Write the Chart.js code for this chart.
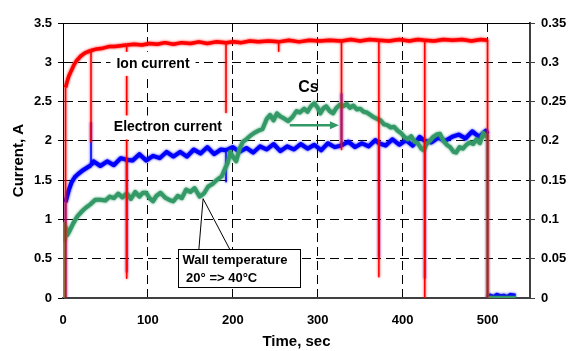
<!DOCTYPE html>
<html>
<head>
<meta charset="utf-8">
<script src="https://cdn.jsdelivr.net/npm/chart.js@4.4.1/dist/chart.umd.min.js"></script>
<style>
  html, body { margin: 0; padding: 0; background: #fff; }
  #wrap { width: 572px; height: 351px; }
</style>
</head>
<body>
<div id="wrap"><canvas id="chart" width="572" height="351"></canvas></div>
<script>
// Axis ticks
const timeTicks = [0, 100, 200, 300, 400, 500];
const currentTicks = [0, 0.5, 1, 1.5, 2, 2.5, 3, 3.5];
const rightTicks = [0, 0.05, 0.1, 0.15, 0.2, 0.25, 0.3, 0.35];
const rightTickLabels = ['0', '0.05', '0.1', '0.15', '0.2', '0.25', '0.3', '0.35'];

// Ion current (A) - spikes are repeated times
const ionTime = [
  3, 3, 5, 7, 10, 13, 16, 21, 26,
  33, 33, 33,
  40, 47, 54, 61, 68,
  75, 75, 75,
  84, 93, 102, 111, 120, 130, 140, 150, 160, 170, 180,
  192, 192, 192,
  201, 210, 220, 230, 242,
  254, 254, 254,
  266, 278, 290, 302, 314,
  328, 328, 328,
  339, 350, 361,
  372, 372, 372,
  384, 396, 408, 418,
  426, 426, 426,
  437, 448, 459, 470, 481, 492,
  500, 500
];
const ionCurrent = [
  0, 2.68, 2.76, 2.83, 2.90, 2.97, 3.02, 3.08, 3.12,
  3.15, 1.99, 3.15,
  3.17, 3.18, 3.20, 3.20, 3.21,
  3.22, 0.25, 3.22,
  3.23, 3.22, 3.24, 3.23, 3.25, 3.23, 3.25, 3.24, 3.26, 3.24, 3.26,
  3.25, 2.36, 3.25,
  3.26, 3.25, 3.27, 3.26, 3.27,
  3.26, 3.14, 3.26,
  3.28, 3.26, 3.28, 3.27, 3.28,
  3.27, 1.89, 3.27,
  3.29, 3.27, 3.29,
  3.28, 0.27, 3.28,
  3.27, 3.29, 3.27, 3.29,
  3.28, 0, 3.28,
  3.27, 3.29, 3.28, 3.29, 3.27, 3.29,
  3.28, 0
];

// Electron current (A)
const electronTime = [
  3, 3, 5, 7, 10, 14, 18, 24, 30,
  33, 33, 33,
  36, 44, 52, 60, 68,
  75, 75, 75,
  82, 90, 98, 106, 114, 122, 130, 138, 146, 154, 162, 170, 178, 186,
  192, 192, 192,
  200, 208, 216, 224, 232, 240, 248, 256, 264, 272, 280, 288, 296, 304, 312, 320,
  328, 328, 328,
  336, 344, 352, 360, 368,
  372, 372, 372,
  380, 388, 396, 404, 412, 420,
  426, 426, 426,
  434, 442, 450, 458, 466, 474, 482, 490, 498,
  500, 500, 500,
  503, 507, 511, 515, 519, 523, 527, 533
];
const electronCurrent = [
  0, 1.22, 1.30, 1.38, 1.47, 1.54, 1.58, 1.63, 1.67,
  1.69, 2.23, 1.69,
  1.74, 1.68, 1.74, 1.69, 1.78,
  1.76, 0.33, 1.76,
  1.75, 1.83, 1.75, 1.81, 1.78, 1.86, 1.80, 1.86, 1.80, 1.89, 1.84, 1.92, 1.83, 1.89,
  1.88, 1.48, 1.88,
  1.92, 1.86, 1.91, 1.85, 1.93, 1.89, 1.96, 1.87, 1.93, 1.89, 1.96, 1.90, 1.95, 1.88, 1.97, 1.92,
  1.94, 2.60, 1.94,
  1.99, 1.92, 1.97, 1.93, 2.01,
  1.97, 0.52, 1.97,
  1.94, 2.02, 1.95, 2.01, 1.94, 2.05,
  2.00, 0.25, 2.00,
  1.98, 2.04, 2.00, 2.05, 2.08, 2.03, 2.12, 2.05, 2.13,
  2.09, 0.28, 0,
  0.03, 0.01, 0.04, 0.02, 0.03, 0.01, 0.04, 0.03
];

// Cs signal / wall temperature trace (green)
const cesiumTime = [
  1, 1, 2, 3, 5, 8, 12, 17, 22, 27,
  32, 38, 44, 50, 55, 60, 65, 70, 75, 80,
  85, 90, 94, 98, 102, 106, 110, 115, 120, 125,
  130, 135, 140, 145, 150, 155, 161, 166, 171, 176,
  181, 187, 191, 194, 197, 200, 204, 208, 212, 216,
  220, 225, 230, 235, 240, 244, 248, 252, 256, 261,
  265, 270, 275, 279, 284, 288, 292, 296, 300, 303,
  307, 310, 314, 318, 322, 326, 330, 334, 338, 342,
  346, 350, 354, 358, 362, 366, 370, 374, 378, 382,
  386, 390, 394, 398, 402, 406, 410, 414, 418, 422,
  425, 428, 432, 436, 440, 444, 448, 452, 456, 460,
  463, 467, 471, 475, 479, 483, 487, 491, 495, 498,
  500, 500, 533
];
const cesiumSignal = [
  0, 0.96, 0.74, 0.90, 0.80, 0.86, 0.95, 1.04, 1.10, 1.15,
  1.19, 1.25, 1.25, 1.24, 1.29, 1.27, 1.33, 1.28, 1.33, 1.26,
  1.35, 1.29, 1.34, 1.34, 1.27, 1.23, 1.30, 1.34, 1.28, 1.25,
  1.23, 1.30, 1.27, 1.38, 1.35, 1.40, 1.29, 1.33, 1.42, 1.45,
  1.50, 1.55, 1.65, 1.72, 1.86, 1.80, 1.74, 1.90, 1.99, 2.02,
  2.06, 2.10, 2.13, 2.15, 2.28, 2.33, 2.26, 2.35, 2.31, 2.28,
  2.25, 2.30, 2.38, 2.36, 2.41, 2.37, 2.44, 2.48, 2.42, 2.35,
  2.42, 2.44, 2.38, 2.35, 2.42, 2.46, 2.44, 2.47, 2.42, 2.45,
  2.40, 2.41, 2.37, 2.36, 2.33, 2.30, 2.28, 2.26, 2.21, 2.20,
  2.17, 2.18, 2.13, 2.10, 2.05, 2.02, 2.06, 1.99, 1.97, 1.90,
  1.88, 1.96, 2.00, 2.05, 2.08, 2.09, 2.00, 1.95, 1.92, 1.86,
  1.85, 1.92, 1.90, 1.95, 1.98, 1.96, 2.02, 1.97, 2.10, 2.06,
  2.05, 0, 0
];

const FONT = "'Liberation Sans', Arial, Helvetica, sans-serif";
Chart.defaults.font.family = FONT;
Chart.defaults.color = '#000';

const pairs = (t, v) => t.map((x, i) => ({ x: x, y: v[i] }));
const isVertical = ctx => ctx.p0.parsed.x === ctx.p1.parsed.x;
const useTicks = list => scale => { scale.ticks = list.map(v => ({ value: v })); };

// soft edges so the thick traces read like a noisy signal band
const fuzz = {
  id: 'fuzz',
  beforeDatasetDraw(chart, args) {
    const ctx = chart.ctx;
    ctx.save();
    ctx.shadowColor = args.meta.dataset.options.borderColor;
    ctx.shadowBlur = 2.5;
  },
  afterDatasetDraw(chart) {
    chart.ctx.restore();
  }
};

// Text labels, arrow and callout, anchored in data units
const notes = {
  id: 'notes',
  afterDatasetsDraw(chart) {
    const { ctx, chartArea: area, scales: { x, y } } = chart;
    const px = t => x.getPixelForValue(t);
    const py = v => y.getPixelForValue(v);
    ctx.save();

    // top frame line
    ctx.strokeStyle = '#000';
    ctx.lineWidth = 1;
    ctx.beginPath();
    ctx.moveTo(area.left, Math.round(area.top) + 0.5);
    ctx.lineTo(area.right, Math.round(area.top) + 0.5);
    ctx.stroke();

    const label = (text, t, v, size, pad) => {
      ctx.font = `bold ${size}px ${FONT}`;
      const w = ctx.measureText(text).width;
      const cx = px(t), cy = py(v);
      if (pad) {
        ctx.fillStyle = '#fff';
        ctx.fillRect(cx - w / 2 - pad, cy - 12, w + 2 * pad, 24);
      }
      ctx.fillStyle = '#000';
      ctx.textAlign = 'center';
      ctx.textBaseline = 'middle';
      ctx.fillText(text, cx, cy);
    };
    label('Ion current', 106, 2.98, 14, 6);
    label('Electron current', 123.5, 2.17, 14, 4);
    label('Cs', 289, 2.68, 16, 0);

    // green arrow under "Cs"
    const ay = py(2.2), ax0 = px(267), ax1 = px(325);
    ctx.strokeStyle = '#339966';
    ctx.fillStyle = '#339966';
    ctx.lineWidth = 2.5;
    ctx.beginPath();
    ctx.moveTo(ax0, ay);
    ctx.lineTo(ax1 - 7, ay);
    ctx.stroke();
    ctx.beginPath();
    ctx.moveTo(ax1, ay);
    ctx.lineTo(ax1 - 9, ay - 4);
    ctx.lineTo(ax1 - 9, ay + 4);
    ctx.closePath();
    ctx.fill();

    // callout "Wall temperature"
    const bl = Math.round(px(135.6)) + 0.5, br = Math.round(px(279.6)) + 0.5;
    const bt = Math.round(py(0.624)) + 0.5, bb = Math.round(py(0.135)) + 0.5;
    const tipX = px(165), tipY = py(1.264);
    ctx.strokeStyle = '#000';
    ctx.lineWidth = 1;
    ctx.beginPath();
    ctx.moveTo(px(160), bt);
    ctx.lineTo(tipX, tipY);
    ctx.lineTo(px(196.5), bt);
    ctx.stroke();
    ctx.fillStyle = '#fff';
    ctx.fillRect(bl, bt, br - bl, bb - bt);
    ctx.strokeRect(bl, bt, br - bl, bb - bt);
    ctx.fillStyle = '#000';
    ctx.font = `bold 13px ${FONT}`;
    ctx.textAlign = 'left';
    ctx.textBaseline = 'middle';
    ctx.fillText('Wall temperature', bl + 4, bt + 11);
    ctx.fillText(' 20\u00B0 => 40\u00B0C', bl + 4, bt + 29);

    ctx.restore();
  }
};

new Chart(document.getElementById('chart'), {
  type: 'line',
  data: {
    datasets: [
      {
        label: 'Ion current',
        data: pairs(ionTime, ionCurrent),
        borderColor: '#ff0000',
        borderWidth: 3.5,
        segment: { borderWidth: c => isVertical(c) ? 1.5 : undefined }
      },
      {
        label: 'Cs',
        data: pairs(cesiumTime, cesiumSignal),
        borderColor: '#339966',
        borderWidth: 4,
        segment: {
          borderWidth: c => isVertical(c) ? 1.5 : undefined,
          borderColor: c => isVertical(c) ? '#22dd22' : undefined
        }
      },
      {
        label: 'Electron current',
        data: pairs(electronTime, electronCurrent),
        borderColor: '#0000ff',
        borderWidth: 4,
        segment: { borderWidth: c => isVertical(c) ? 1.5 : undefined }
      }
    ]
  },
  options: {
    responsive: false,
    animation: false,
    devicePixelRatio: 1,
    layout: { padding: { top: 23, left: 0, right: 0, bottom: 0 } },
    elements: {
      point: { radius: 0, hoverRadius: 0 },
      line: { tension: 0, borderJoinStyle: 'round' }
    },
    plugins: {
      legend: { display: false },
      tooltip: { enabled: false }
    },
    scales: {
      x: {
        type: 'linear',
        position: 'bottom',
        min: 0,
        max: 550,
        afterBuildTicks: useTicks(timeTicks),
        afterFit: s => { s.height = 53; },
        grid: { color: '#000', lineWidth: 1, drawTicks: false },
        border: { color: '#404040', width: 2, dash: [9, 5] },
        ticks: { padding: 15, maxRotation: 0, font: { size: 13, weight: 'bold' } },
        title: {
          display: true,
          text: 'Time, sec',
          font: { size: 15, weight: 'bold' },
          padding: { top: 0, bottom: 0 }
        }
      },
      y: {
        position: 'left',
        min: 0,
        max: 3.5,
        afterBuildTicks: useTicks(currentTicks),
        afterFit: s => { s.width = 63; },
        grid: { color: '#000', lineWidth: 1, tickLength: 5, tickBorderDash: [] },
        border: { color: '#000', width: 1, dash: [9, 5] },
        ticks: { padding: 6, font: { size: 13, weight: 'bold' }, callback: v => String(v) },
        title: {
          display: true,
          text: 'Current, A',
          font: { size: 15, weight: 'bold' },
          padding: { top: 10, bottom: 0 }
        }
      },
      y2: {
        position: 'right',
        min: 0,
        max: 0.35,
        afterBuildTicks: useTicks(rightTicks),
        afterFit: s => { s.width = 42; },
        grid: { drawOnChartArea: false, color: '#404040', tickLength: 5, tickBorderDash: [] },
        border: { color: '#404040', width: 2 },
        ticks: { padding: 6, font: { size: 13, weight: 'bold' }, callback: (v, i) => rightTickLabels[i] }
      }
    }
  },
  plugins: [fuzz, notes]
});
</script>
</body>
</html>
